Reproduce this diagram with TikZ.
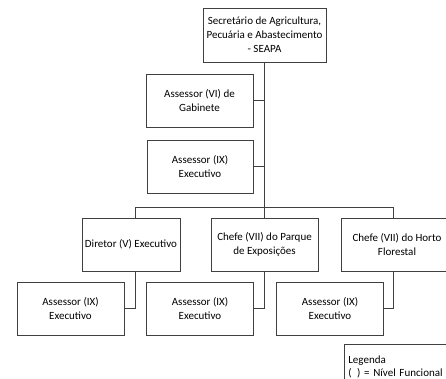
\documentclass[tikz,border=0pt]{standalone}
\usepackage{fontspec}
\setmainfont{Carlito}
\usetikzlibrary{positioning}

\begin{document}
\begin{tikzpicture}[x=1pt, y=-1pt, line width=0.7pt,
                      every node/.style = {shape=rectangle, draw=black!75,
                        align=center, inner sep=2pt,
                        font=\fontsize{11}{14}\selectfont},
                      cargo/.style = {minimum width=107pt, minimum height=53pt},
                      link/.style = {draw=black!75}]
  \useasboundingbox (0,0) rectangle (446,378);
  \clip (0,0) rectangle (446,378);
  % topo
  \node[minimum width=123pt, minimum height=54pt] (seapa) at (264.5,35)
    {Secret\'ario de Agricultura,\\ Pecu\'aria e Abastecimento\\ - SEAPA};
  \node[cargo] (gabinete) at (199.5,100.5) {Assessor (VI) de\\ Gabinete};
  \node[cargo, minimum width=106pt] (assexec) at (200,166.5) {Assessor (IX)\\ Executivo};
  % segundo nivel
  \node[cargo, minimum width=98pt] (diretor) at (131,244.5) {Diretor (V) Executivo};
  \node[cargo] (parque) at (264.5,244.5) {Chefe (VII) do Parque\\ de Exposi\c{c}\~oes};
  \node[cargo, minimum width=112pt] (horto) at (397,244.5) {Chefe (VII) do Horto\\ Florestal};
  % terceiro nivel
  \node[cargo] (assdir) at (70.5,308.5) {Assessor (IX)\\ Executivo};
  \node[cargo] (assparque) at (200,308.5) {Assessor (IX)\\ Executivo};
  \node[cargo] (asshorto) at (330,308.5) {Assessor (IX)\\ Executivo};
  % legenda
  \node[align=left, anchor=north west, minimum width=110pt, minimum height=45pt,
        text width=104pt, inner xsep=4pt, inner ysep=0pt,
        font=\fontsize{11}{13}\selectfont] (legenda) at (344,344)
    {Legenda\\ (\enspace) = N\'ivel Funcional\\[6pt]};

  \coordinate (barra) at (264.5,207);
  \draw[link] (seapa.south) -- (barra);
  \draw[link] (gabinete.east) -- (gabinete.east -| seapa.south);
  \draw[link] (assexec.east) -- (assexec.east -| seapa.south);
  \draw[link] (135,207) -- (393.5,207);
  \draw[link] (135,207) -- (135,218);
  \draw[link] (barra) -- (parque.north);
  \draw[link] (393.5,207) -- (393.5,218);
  \draw[link] (135,271) |- (assdir.east);
  \draw[link] (parque.south) |- (assparque.east);
  \draw[link] (393.5,271) |- (asshorto.east);
\end{tikzpicture}
\end{document}
